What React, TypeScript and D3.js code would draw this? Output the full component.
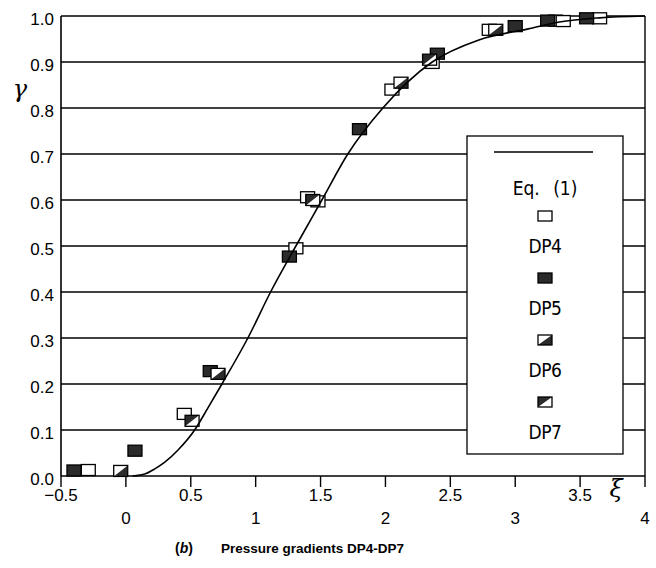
import React from "react";
import * as d3 from "d3";

// Eq. (1) curve
const eqXi = [0.05, 0.15, 0.22, 0.3, 0.4, 0.53, 0.63, 0.74, 0.94, 1.115, 1.31, 1.51, 1.71, 1.98, 2.36, 2.72, 3.1, 3.34, 3.65, 4.0];
const eqGamma = [0, 0.005, 0.015, 0.03, 0.056, 0.1, 0.147, 0.2, 0.3, 0.4, 0.5, 0.6, 0.7, 0.8, 0.9, 0.948, 0.972, 0.987, 0.996, 1.0];

// measured points
const dp4Xi = [-0.29, 0.45, 1.31, 1.4, 1.48, 2.05, 2.36, 2.8, 3.31, 3.37, 3.65];
const dp4Gamma = [0.013, 0.135, 0.495, 0.606, 0.597, 0.84, 0.898, 0.97, 0.99, 0.989, 0.995];
const dp5Xi = [-0.4, 0.07, 0.65, 1.26, 1.8, 2.4, 3.0, 3.25, 3.55];
const dp5Gamma = [0.012, 0.055, 0.228, 0.477, 0.754, 0.918, 0.978, 0.99, 0.995];
const dp6Xi = [-0.04, 0.71, 2.12, 2.85];
const dp6Gamma = [0.011, 0.222, 0.855, 0.97];
const dp7Xi = [0.51, 1.44, 2.34];
const dp7Gamma = [0.12, 0.6, 0.905];

const xTicksLow = [-0.5, 0.5, 1.5, 2.5, 3.5];
const xTicksHigh = [0, 1, 2, 3, 4];
const yTicks = [0, 0.1, 0.2, 0.3, 0.4, 0.5, 0.6, 0.7, 0.8, 0.9, 1.0];
const legendNames = ["DP4", "DP5", "DP6", "DP7"];

const W = 656;
const H = 568;
const margin = { top: 16, right: 11, bottom: 92, left: 61 };
const DARK = "#2b2b2b";
const TICK_FONT = "'Liberation Sans', Arial, sans-serif";
const LEG_FONT = "'Liberation Sans Narrow', 'DejaVu Sans Condensed', 'Liberation Sans', sans-serif";

type Kind = "DP4" | "DP5" | "DP6" | "DP7";

const Marker = ({ cx, cy, kind, w = 14, h = 11 }: { cx: number; cy: number; kind: Kind; w?: number; h?: number }) => {
  const x0 = cx - w / 2;
  const y0 = cy - h / 2;
  const x1 = cx + w / 2;
  const y1 = cy + h / 2;
  return (
    <g>
      <rect x={x0} y={y0} width={w} height={h} fill={kind === "DP5" ? DARK : "#fff"} />
      {kind === "DP6" && <polygon points={`${x0},${y1} ${x1},${y1} ${x1},${y0}`} fill={DARK} />}
      {kind === "DP7" && <polygon points={`${x0},${y0} ${x1},${y0} ${x0},${y1}`} fill={DARK} />}
      <rect x={x0} y={y0} width={w} height={h} fill="none" stroke="#000" strokeWidth={1.3} />
    </g>
  );
};

export default function App() {
  const x = d3.scaleLinear().domain([-0.5, 4]).range([margin.left, W - margin.right]);
  const y = d3.scaleLinear().domain([0, 1]).range([H - margin.bottom, margin.top]);

  const curve = d3
    .line<number>()
    .x((d) => x(eqXi[d]))
    .y((d) => y(eqGamma[d]))
    .curve(d3.curveMonotoneX)(eqXi.map((_, i) => i));

  const series: { kind: Kind; xs: number[]; ys: number[] }[] = [
    { kind: "DP4", xs: dp4Xi, ys: dp4Gamma },
    { kind: "DP5", xs: dp5Xi, ys: dp5Gamma },
    { kind: "DP6", xs: dp6Xi, ys: dp6Gamma },
    { kind: "DP7", xs: dp7Xi, ys: dp7Gamma },
  ];

  const left = x(-0.5);
  const right = x(4);
  const top = y(1);
  const bottom = y(0);

  // legend box
  const lg = { x: 467, y: 136, w: 156, h: 318 };
  const lgCx = lg.x + lg.w / 2;

  return (
    <svg width={W} height={H} style={{ position: "absolute", left: 0, top: 0, background: "#fff" }}>
      <rect width={W} height={H} fill="#fff" />
      {/* grid lines */}
      {yTicks.slice(1, -1).map((t) => (
        <line key={t} x1={left} x2={right} y1={y(t)} y2={y(t)} stroke="#000" strokeWidth={1.3} />
      ))}
      {/* frame */}
      <line x1={left} x2={right} y1={top} y2={top} stroke="#000" strokeWidth={1.4} />
      <line x1={left} x2={right} y1={bottom} y2={bottom} stroke="#000" strokeWidth={1.6} />
      <line x1={left} x2={left} y1={top} y2={bottom} stroke="#000" strokeWidth={1.6} />
      <line x1={right} x2={right} y1={top} y2={bottom} stroke="#000" strokeWidth={1.4} />
      {/* x ticks */}
      {[...xTicksLow, ...xTicksHigh].map((t) => (
        <line key={"t" + t} x1={x(t)} x2={x(t)} y1={bottom} y2={bottom + 11} stroke="#000" strokeWidth={1.4} />
      ))}
      {/* y tick labels */}
      {yTicks.map((t) => (
        <text key={"y" + t} x={54} y={y(t) + 9} textAnchor="end" fontFamily={TICK_FONT} fontSize={17}>
          {t.toFixed(1)}
        </text>
      ))}
      {/* x tick labels, two staggered rows */}
      {xTicksLow.map((t) => (
        <text key={"xl" + t} x={x(t)} y={bottom + 25} textAnchor="middle" fontFamily={TICK_FONT} fontSize={17}>
          {t < 0 ? "\u2212" + Math.abs(t) : t}
        </text>
      ))}
      {xTicksHigh.map((t) => (
        <text key={"xh" + t} x={x(t)} y={bottom + 48} textAnchor="middle" fontFamily={TICK_FONT} fontSize={17}>
          {t}
        </text>
      ))}
      {/* axis names */}
      <text x={20} y={97} textAnchor="middle" fontFamily="'DejaVu Serif', 'Liberation Serif', serif" fontStyle="italic" fontSize={24}>
        γ
      </text>
      <text x={616} y={497} textAnchor="middle" fontFamily="'DejaVu Serif', 'Liberation Serif', serif" fontStyle="italic" fontSize={24}>
        ξ
      </text>
      {/* legend */}
      <rect x={lg.x} y={lg.y} width={lg.w} height={lg.h} fill="#fff" stroke="#000" strokeWidth={1.3} />
      <line x1={494} x2={593} y1={152} y2={152} stroke="#000" strokeWidth={1.5} />
      <text x={lgCx} y={195} textAnchor="middle" fontFamily={LEG_FONT} fontSize={19} wordSpacing={8}>
        Eq. (1)
      </text>
      {legendNames.map((n, i) => (
        <g key={n}>
          <Marker cx={lgCx} cy={216 + i * 62} kind={n as Kind} w={14} h={10} />
          <text x={lgCx} y={253 + i * 62} textAnchor="middle" fontFamily={LEG_FONT} fontSize={19} letterSpacing={-0.5}>
            {n}
          </text>
        </g>
      ))}
      {/* data markers */}
      {series.map((s) =>
        s.xs.map((v, i) => <Marker key={s.kind + i} cx={x(v)} cy={y(s.ys[i])} kind={s.kind} />)
      )}
      {/* Eq. (1) */}
      <path d={curve ?? ""} fill="none" stroke="#000" strokeWidth={1.6} />
      {/* caption */}
      <text x={175} y={553} fontFamily={TICK_FONT} fontWeight="bold" fontSize={14}>
        (<tspan fontStyle="italic">b</tspan>)
      </text>
      <text x={221} y={553} fontFamily={TICK_FONT} fontWeight="bold" fontSize={13.5}>
        Pressure gradients DP4-DP7
      </text>
    </svg>
  );
}
